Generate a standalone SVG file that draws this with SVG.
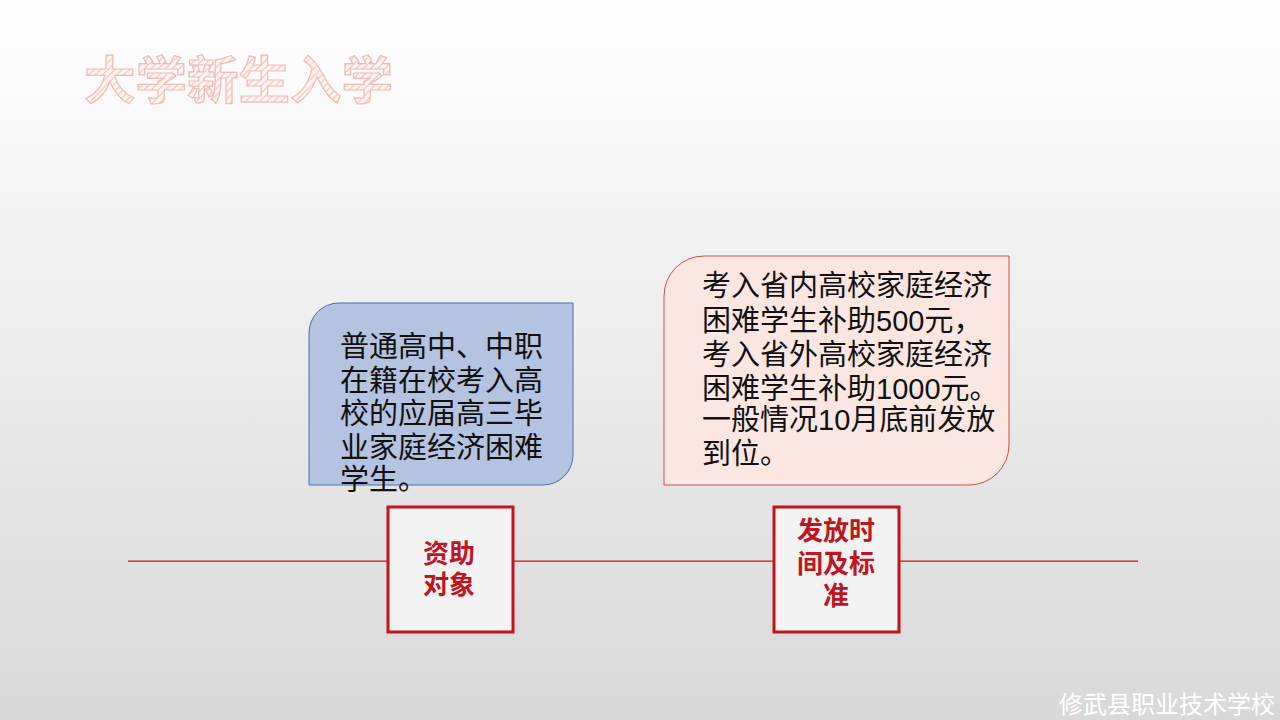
<svg xmlns="http://www.w3.org/2000/svg" width="1280" height="720" viewBox="0 0 1280 720">
<defs>
<linearGradient id="bg" x1="0" y1="0" x2="0" y2="1">
<stop offset="0" stop-color="#ffffff"/>
<stop offset="1" stop-color="#d8d8d8"/>
</linearGradient>
<pattern id="hatch" width="5" height="5" patternUnits="userSpaceOnUse" patternTransform="rotate(45)">
<rect width="5" height="5" fill="#fdf3f1"/>
<line x1="0" y1="0" x2="0" y2="5" stroke="#eab3ad" stroke-width="1.5"/>
</pattern>
<style>
.cjk{font-family:"Liberation Sans","Noto Sans CJK SC",sans-serif;}
.body{font-size:29px;fill:#111;}
.lbl{font-size:26px;font-weight:bold;fill:#c0141e;text-anchor:middle;}
.tag{fill:#f3f3f3;stroke:#c0141e;stroke-width:3;}
</style>
</defs>
<rect width="1280" height="720" fill="url(#bg)"/>
<text x="84" y="99" class="cjk" font-size="51.5" font-weight="bold" fill="url(#hatch)" stroke="#eebcb5" stroke-width="1.2">大学新生入学</text>
<g id="connectors">
<rect x="128" y="560.5" width="1010" height="1.3" fill="#cc1a22"/>
</g>
<g id="node-target-desc">
<path d="M339,303 H573 V455 A30,30 0 0 1 543,485 H309 V333 A30,30 0 0 1 339,303 Z" fill="#b4c3e0" stroke="#4a6eb5" stroke-width="1"/>
<text class="cjk body"><tspan x="340" y="357">普通高中、中职</tspan><tspan x="340" y="391">在籍在校考入高</tspan><tspan x="340" y="424">校的应届高三毕</tspan><tspan x="340" y="458">业家庭经济困难</tspan><tspan x="340" y="490">学生。</tspan></text>
</g>
<g id="node-time-desc">
<path d="M704,256 H1009 V445 A40,40 0 0 1 969,485 H664 V296 A40,40 0 0 1 704,256 Z" fill="#fbe6e2" stroke="#c8504a" stroke-width="1"/>
<text class="cjk body"><tspan x="702" y="296">考入省内高校家庭经济</tspan><tspan x="702" y="331">困难学生补助500元，</tspan><tspan x="702" y="365">考入省外高校家庭经济</tspan><tspan x="702" y="399">困难学生补助1000元。</tspan><tspan x="702" y="430">一般情况10月底前发放</tspan><tspan x="702" y="464">到位。</tspan></text>
</g>
<g id="node-target">
<rect x="388" y="507" width="125" height="125" class="tag"/>
<text class="cjk lbl"><tspan x="449" y="563">资助</tspan><tspan x="449" y="594">对象</tspan></text>
</g>
<g id="node-time">
<rect x="774" y="507" width="125" height="125" class="tag"/>
<text class="cjk lbl"><tspan x="836" y="540">发放时</tspan><tspan x="836" y="573">间及标</tspan><tspan x="836" y="605">准</tspan></text>
</g>
<text x="1275" y="713" class="cjk" font-size="24" fill="#ffffff" text-anchor="end">修武县职业技术学校</text>
</svg>
